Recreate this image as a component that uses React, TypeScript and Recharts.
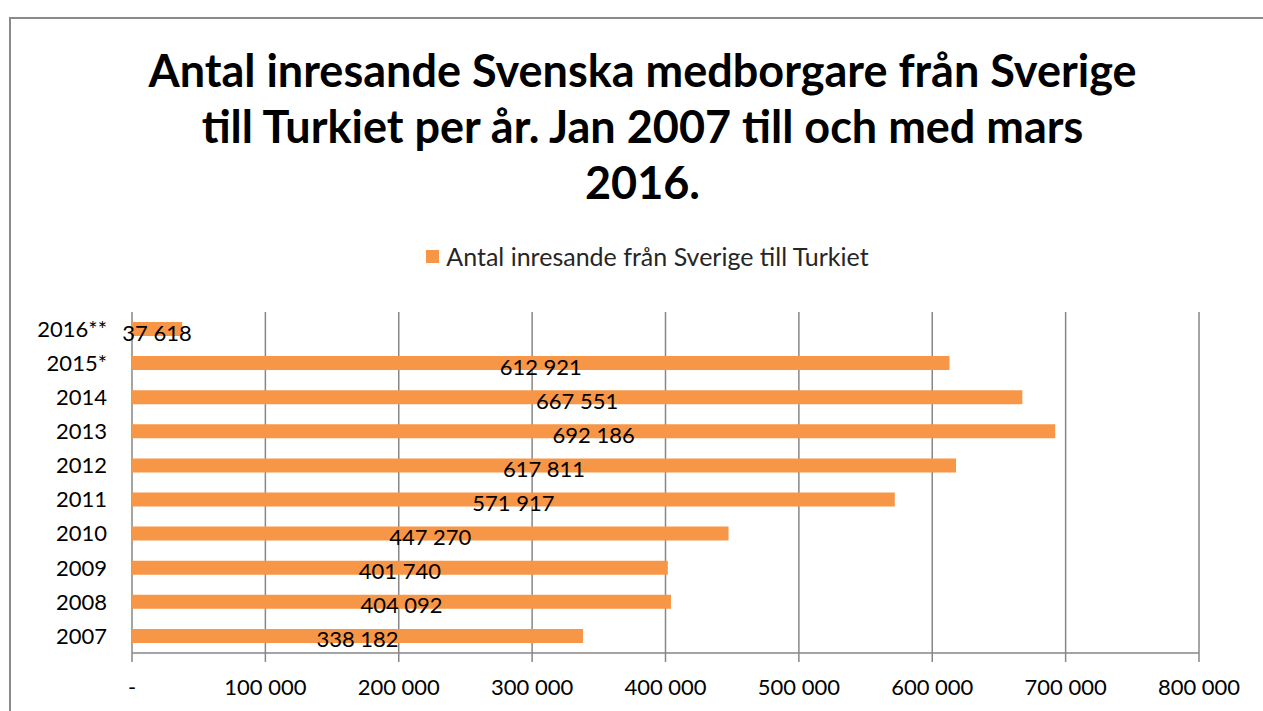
import { Bar, BarChart, CartesianGrid, LabelList, Legend, XAxis, YAxis } from "recharts";

const years = ["2007", "2008", "2009", "2010", "2011", "2012", "2013", "2014", "2015*", "2016**"];
const arrivals = [338182, 404092, 401740, 447270, 571917, 617811, 692186, 667551, 612921, 37618];
const xTicks = [0, 100000, 200000, 300000, 400000, 500000, 600000, 700000, 800000];
const boundaryTicks = [0, 1, 2, 3, 4, 5, 6, 7, 8, 9, 10];

const seriesName = "Antal inresande från Sverige till Turkiet";
const titleLines = [
  "Antal inresande Svenska medborgare från Sverige",
  "till Turkiet per år. Jan 2007 till och med mars",
  "2016.",
];

const data = years.map((year, i) => ({ year, value: arrivals[i] }));

const FONT = "Lato, 'Open Sans', sans-serif";
const ORANGE = "#F79646";
const GRID = "#878787";

// "100 000" style, zero shown as "-"
function fmtSpace(n: number) {
  if (n === 0) return "-";
  return String(Math.round(n)).replace(/\B(?=(\d{3})+(?!\d))/g, " ");
}

function LegendBox() {
  return (
    <div style={{ display: "flex", justifyContent: "center", alignItems: "center", fontFamily: FONT }}>
      <span style={{ width: 13, height: 13, background: ORANGE, display: "inline-block", marginRight: 7 }} />
      <span style={{ fontSize: 25, color: "#262626" }}>{seriesName}</span>
    </div>
  );
}

function BarValue(props: any) {
  const { x, y, width, height, value } = props;
  return (
    <text
      x={Number(x) + Number(width) / 2}
      y={Number(y) + Number(height) / 2 + 3}
      textAnchor="middle"
      dominantBaseline="central"
      fill="#000"
      fontSize={22}
      fontFamily={FONT}
    >
      {fmtSpace(Number(value))}
    </text>
  );
}

export default function App() {
  return (
    <div style={{ position: "absolute", left: 0, top: 0, width: 1263, height: 711, background: "#fff", overflow: "hidden" }}>
      <div style={{ position: "absolute", left: 9, top: 17, width: 1300, height: 800, borderLeft: "2px solid #8a8a8a", borderTop: "2px solid #8a8a8a" }} />
      <div
        style={{
          position: "absolute",
          left: 0,
          top: 42,
          width: 1285,
          textAlign: "center",
          fontFamily: FONT,
          fontWeight: 700,
          fontSize: 45,
          lineHeight: "56px",
          color: "#000",
        }}
      >
        {titleLines.map((l) => (
          <div key={l}>{l}</div>
        ))}
      </div>
      <div style={{ position: "absolute", left: 0, top: 0 }}>
        <BarChart
          width={1263}
          height={711}
          data={data}
          layout="vertical"
          barSize={14}
          margin={{ top: 312, right: 64, left: 12, bottom: 8 }}
        >
          <CartesianGrid horizontal={false} stroke={GRID} strokeWidth={1.5} />
          <Legend
            verticalAlign="middle"
            align="center"
            content={() => <LegendBox />}
            wrapperStyle={{ top: 241, left: 0, width: 1295 }}
          />
          <XAxis
            type="number"
            domain={[0, 800000]}
            ticks={xTicks}
            tickFormatter={fmtSpace}
            height={50}
            tickSize={9}
            tickMargin={17}
            stroke={GRID}
            tick={{ fill: "#000", fontSize: 22, fontFamily: FONT }}
            axisLine={{ stroke: GRID, strokeWidth: 1.5 }}
            tickLine={{ stroke: GRID, strokeWidth: 1.5 }}
          />
          <YAxis
            yAxisId="edges"
            type="number"
            domain={[0, 10]}
            ticks={boundaryTicks}
            tick={false}
            tickSize={7}
            width={0}
            axisLine={{ stroke: GRID, strokeWidth: 1.5 }}
            tickLine={{ stroke: GRID, strokeWidth: 1.5 }}
          />
          <YAxis
            yAxisId="cat"
            type="category"
            dataKey="year"
            reversed
            width={120}
            tickSize={0}
            tickMargin={25}
            axisLine={false}
            tickLine={false}
            tick={{ fill: "#000", fontSize: 22, fontFamily: FONT }}
          />
          <Bar yAxisId="cat" dataKey="value" name={seriesName} fill={ORANGE} isAnimationActive={false}>
            <LabelList dataKey="value" content={BarValue} />
          </Bar>
        </BarChart>
      </div>
    </div>
  );
}
